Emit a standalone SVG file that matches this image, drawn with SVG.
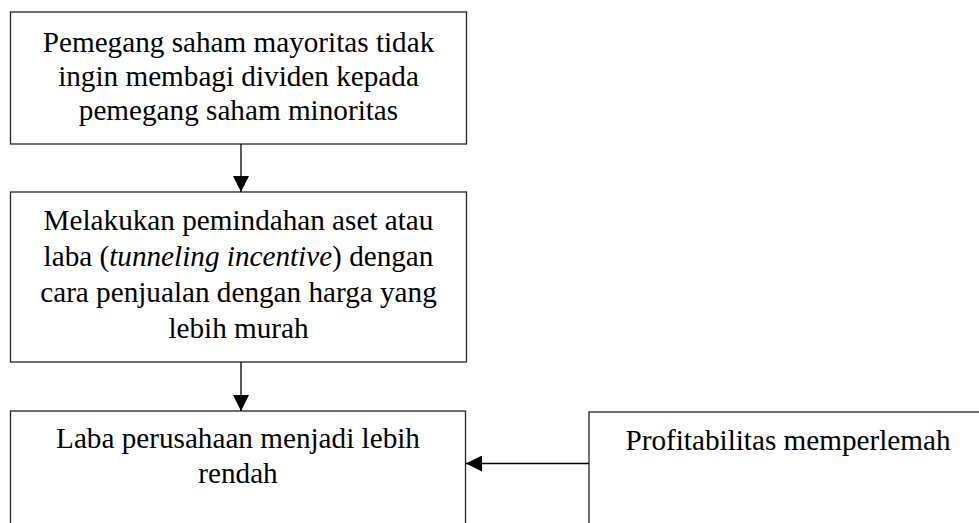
<svg xmlns="http://www.w3.org/2000/svg" width="979" height="523" viewBox="0 0 979 523">
<style>
.box{fill:#fff;stroke:#222;stroke-width:1.3}
.t{font-family:"Liberation Serif","Times New Roman",serif;font-size:29.2px;fill:#000;text-anchor:middle}
.c{stroke:#000;stroke-width:1.3;fill:none}
</style>
<defs>
<marker id="ah" markerWidth="16" markerHeight="16" viewBox="0 0 16 16" refX="16" refY="8" orient="auto" markerUnits="userSpaceOnUse">
<path d="M0,0 L16,8 L0,16 Z" fill="#000"/>
</marker>
</defs>
<rect width="979" height="523" fill="#fff"/>
<g id="node1">
<rect class="box" x="10.5" y="12" width="456" height="132"/>
<text class="t" x="238.5" y="52">Pemegang saham mayoritas tidak</text>
<text class="t" x="238.5" y="86">ingin membagi dividen kepada</text>
<text class="t" x="238.5" y="120">pemegang saham minoritas</text>
</g>
<g id="node2">
<rect class="box" x="10.5" y="192" width="456" height="170"/>
<text class="t" x="238.5" y="230">Melakukan pemindahan aset atau</text>
<text class="t" x="238.5" y="266">laba (<tspan font-style="italic">tunneling incentive</tspan>) dengan</text>
<text class="t" x="238.5" y="302">cara penjualan dengan harga yang</text>
<text class="t" x="238.5" y="338">lebih murah</text>
</g>
<g id="node3">
<rect class="box" x="10.5" y="411" width="455" height="140"/>
<text class="t" x="238" y="448">Laba perusahaan menjadi lebih</text>
<text class="t" x="238" y="483">rendah</text>
</g>
<g id="node4">
<rect class="box" x="589" y="412" width="400" height="140"/>
<text class="t" x="788" y="450">Profitabilitas memperlemah</text>
</g>
<g id="connectors">
<line class="c" x1="241" y1="144" x2="241" y2="192" marker-end="url(#ah)"/>
<line class="c" x1="241" y1="362" x2="241" y2="411" marker-end="url(#ah)"/>
<line class="c" x1="589" y1="463.5" x2="466" y2="463.5" marker-end="url(#ah)"/>
</g>
</svg>
